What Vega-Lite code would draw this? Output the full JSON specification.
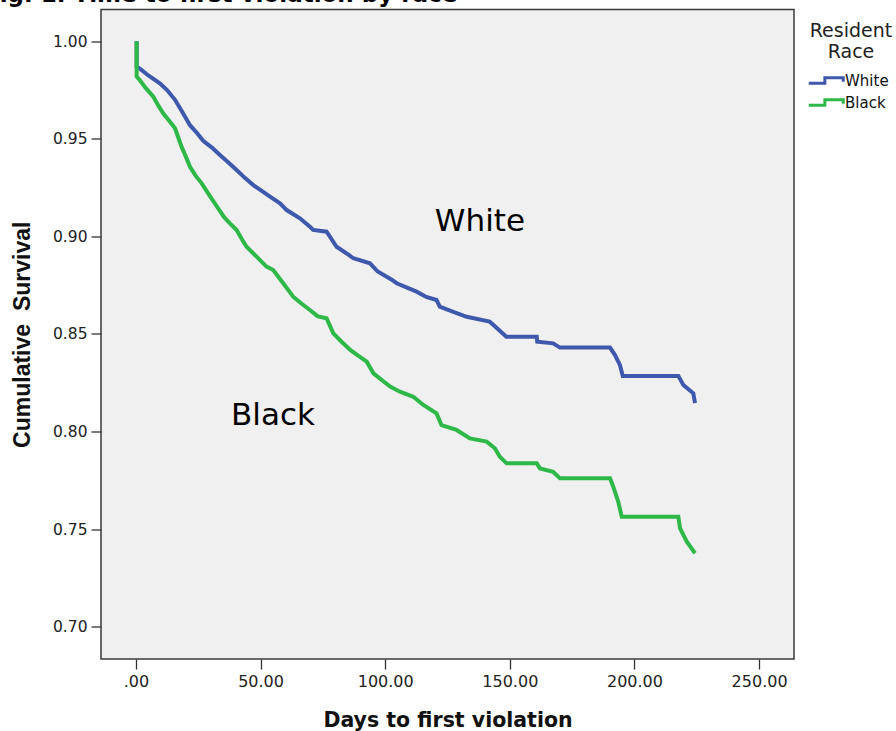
{
  "$schema": "https://vega.github.io/schema/vega-lite/v6.json",
  "width": 693,
  "height": 649.5,
  "autosize": {"type": "none"},
  "padding": {"left": 101, "top": 9.5, "right": 102, "bottom": 72},
  "background": "white",
  "title": {
    "text": "Fig. 1. Time to first violation by race",
    "anchor": "start",
    "frame": "group",
    "dx": -117,
    "dy": -2,
    "offset": 1,
    "font": "DejaVu Sans",
    "fontSize": 23,
    "fontWeight": "bold",
    "color": "#000000"
  },
  "config": {
    "view": {"fill": "#f0f0f0", "stroke": "#3a3a3a", "strokeWidth": 1.5},
    "axis": {
      "domain": false,
      "grid": false,
      "tickColor": "#333333",
      "tickWidth": 1.3,
      "tickSize": 10,
      "labelFont": "DejaVu Sans",
      "labelFontSize": 16,
      "labelColor": "#222222",
      "labelPadding": 4
    }
  },
  "layer": [
    {
      "data": {
        "values": [
          {"race": "White", "n": 1, "days": 0.3, "surv": 1.0},
          {"race": "White", "n": 2, "days": 0.3, "surv": 0.987},
          {"race": "White", "n": 3, "days": 1.6, "surv": 0.986},
          {"race": "White", "n": 4, "days": 5, "surv": 0.9825},
          {"race": "White", "n": 5, "days": 9.6, "surv": 0.9785},
          {"race": "White", "n": 6, "days": 12.5, "surv": 0.975},
          {"race": "White", "n": 7, "days": 15.7, "surv": 0.97},
          {"race": "White", "n": 8, "days": 18.5, "surv": 0.964},
          {"race": "White", "n": 9, "days": 21.7, "surv": 0.957},
          {"race": "White", "n": 10, "days": 24.5, "surv": 0.953},
          {"race": "White", "n": 11, "days": 27, "surv": 0.949},
          {"race": "White", "n": 12, "days": 30.5, "surv": 0.9455},
          {"race": "White", "n": 13, "days": 33.7, "surv": 0.9417},
          {"race": "White", "n": 14, "days": 37, "surv": 0.938},
          {"race": "White", "n": 15, "days": 40.4, "surv": 0.934},
          {"race": "White", "n": 16, "days": 43.7, "surv": 0.93},
          {"race": "White", "n": 17, "days": 47.1, "surv": 0.9263},
          {"race": "White", "n": 18, "days": 50.5, "surv": 0.9233},
          {"race": "White", "n": 19, "days": 53.8, "surv": 0.9204},
          {"race": "White", "n": 20, "days": 57.8, "surv": 0.917},
          {"race": "White", "n": 21, "days": 60.5, "surv": 0.9135},
          {"race": "White", "n": 22, "days": 65.8, "surv": 0.9093},
          {"race": "White", "n": 23, "days": 69.8, "surv": 0.905},
          {"race": "White", "n": 24, "days": 71.1, "surv": 0.9033},
          {"race": "White", "n": 25, "days": 76.5, "surv": 0.9024},
          {"race": "White", "n": 26, "days": 80.5, "surv": 0.8947},
          {"race": "White", "n": 27, "days": 85.4, "surv": 0.8905},
          {"race": "White", "n": 28, "days": 87.2, "surv": 0.8888},
          {"race": "White", "n": 29, "days": 93.9, "surv": 0.8862},
          {"race": "White", "n": 30, "days": 97, "surv": 0.882},
          {"race": "White", "n": 31, "days": 102.8, "surv": 0.8777},
          {"race": "White", "n": 32, "days": 104.6, "surv": 0.876},
          {"race": "White", "n": 33, "days": 112.6, "surv": 0.8717},
          {"race": "White", "n": 34, "days": 116.5, "surv": 0.869},
          {"race": "White", "n": 35, "days": 120.6, "surv": 0.8674},
          {"race": "White", "n": 36, "days": 121.9, "surv": 0.864},
          {"race": "White", "n": 37, "days": 126, "surv": 0.862},
          {"race": "White", "n": 38, "days": 132.7, "surv": 0.8588},
          {"race": "White", "n": 39, "days": 141.9, "surv": 0.8563},
          {"race": "White", "n": 40, "days": 144, "surv": 0.854},
          {"race": "White", "n": 41, "days": 148.6, "surv": 0.8486},
          {"race": "White", "n": 42, "days": 160.8, "surv": 0.8486},
          {"race": "White", "n": 43, "days": 161, "surv": 0.846},
          {"race": "White", "n": 44, "days": 167.4, "surv": 0.8452},
          {"race": "White", "n": 45, "days": 170.1, "surv": 0.843},
          {"race": "White", "n": 46, "days": 190.2, "surv": 0.843},
          {"race": "White", "n": 47, "days": 192.2, "surv": 0.8392},
          {"race": "White", "n": 48, "days": 194.2, "surv": 0.834},
          {"race": "White", "n": 49, "days": 195.3, "surv": 0.8285},
          {"race": "White", "n": 50, "days": 217.6, "surv": 0.8285},
          {"race": "White", "n": 51, "days": 219.6, "surv": 0.8238},
          {"race": "White", "n": 52, "days": 223.6, "surv": 0.8196},
          {"race": "White", "n": 53, "days": 224.3, "surv": 0.8145},
          {"race": "Black", "n": 1, "days": 0.3, "surv": 1.0},
          {"race": "Black", "n": 2, "days": 0.3, "surv": 0.982},
          {"race": "Black", "n": 3, "days": 1.6, "surv": 0.98},
          {"race": "Black", "n": 4, "days": 4, "surv": 0.976},
          {"race": "Black", "n": 5, "days": 7, "surv": 0.9716},
          {"race": "Black", "n": 6, "days": 9, "surv": 0.967},
          {"race": "Black", "n": 7, "days": 11, "surv": 0.963},
          {"race": "Black", "n": 8, "days": 13.5, "surv": 0.959},
          {"race": "Black", "n": 9, "days": 15.7, "surv": 0.9554},
          {"race": "Black", "n": 10, "days": 18.3, "surv": 0.946},
          {"race": "Black", "n": 11, "days": 20, "surv": 0.941},
          {"race": "Black", "n": 12, "days": 21.7, "surv": 0.9357},
          {"race": "Black", "n": 13, "days": 24, "surv": 0.931},
          {"race": "Black", "n": 14, "days": 26.4, "surv": 0.9272},
          {"race": "Black", "n": 15, "days": 29.5, "surv": 0.921},
          {"race": "Black", "n": 16, "days": 33, "surv": 0.9144},
          {"race": "Black", "n": 17, "days": 35.3, "surv": 0.91},
          {"race": "Black", "n": 18, "days": 37.7, "surv": 0.9067},
          {"race": "Black", "n": 19, "days": 40.4, "surv": 0.9033},
          {"race": "Black", "n": 20, "days": 43.1, "surv": 0.8973},
          {"race": "Black", "n": 21, "days": 44.4, "surv": 0.8947},
          {"race": "Black", "n": 22, "days": 48.4, "surv": 0.8896},
          {"race": "Black", "n": 23, "days": 52.4, "surv": 0.8845},
          {"race": "Black", "n": 24, "days": 55.1, "surv": 0.8828},
          {"race": "Black", "n": 25, "days": 59.1, "surv": 0.876},
          {"race": "Black", "n": 26, "days": 63.1, "surv": 0.8691},
          {"race": "Black", "n": 27, "days": 66, "surv": 0.866},
          {"race": "Black", "n": 28, "days": 69.8, "surv": 0.8623},
          {"race": "Black", "n": 29, "days": 73, "surv": 0.859},
          {"race": "Black", "n": 30, "days": 76.5, "surv": 0.858},
          {"race": "Black", "n": 31, "days": 79.2, "surv": 0.8503},
          {"race": "Black", "n": 32, "days": 82.5, "surv": 0.846},
          {"race": "Black", "n": 33, "days": 86, "surv": 0.8418},
          {"race": "Black", "n": 34, "days": 89, "surv": 0.839},
          {"race": "Black", "n": 35, "days": 92.6, "surv": 0.8358},
          {"race": "Black", "n": 36, "days": 95.3, "surv": 0.8298},
          {"race": "Black", "n": 37, "days": 99, "surv": 0.826},
          {"race": "Black", "n": 38, "days": 102, "surv": 0.823},
          {"race": "Black", "n": 39, "days": 105.9, "surv": 0.8204},
          {"race": "Black", "n": 40, "days": 111.3, "surv": 0.8178},
          {"race": "Black", "n": 41, "days": 115.3, "surv": 0.8136},
          {"race": "Black", "n": 42, "days": 120.6, "surv": 0.8093},
          {"race": "Black", "n": 43, "days": 122.6, "surv": 0.8033},
          {"race": "Black", "n": 44, "days": 128.6, "surv": 0.8008},
          {"race": "Black", "n": 45, "days": 134, "surv": 0.7965},
          {"race": "Black", "n": 46, "days": 140.7, "surv": 0.7948},
          {"race": "Black", "n": 47, "days": 144, "surv": 0.7914},
          {"race": "Black", "n": 48, "days": 146, "surv": 0.7871},
          {"race": "Black", "n": 49, "days": 148.7, "surv": 0.7837},
          {"race": "Black", "n": 50, "days": 160.8, "surv": 0.7837},
          {"race": "Black", "n": 51, "days": 162.1, "surv": 0.7811},
          {"race": "Black", "n": 52, "days": 167.4, "surv": 0.7794},
          {"race": "Black", "n": 53, "days": 170.1, "surv": 0.776},
          {"race": "Black", "n": 54, "days": 190.2, "surv": 0.776},
          {"race": "Black", "n": 55, "days": 191.5, "surv": 0.7717},
          {"race": "Black", "n": 56, "days": 193.5, "surv": 0.764},
          {"race": "Black", "n": 57, "days": 194.9, "surv": 0.7563},
          {"race": "Black", "n": 58, "days": 217.6, "surv": 0.7563},
          {"race": "Black", "n": 59, "days": 218.3, "surv": 0.7504},
          {"race": "Black", "n": 60, "days": 221, "surv": 0.7435},
          {"race": "Black", "n": 61, "days": 224.3, "surv": 0.7376}
        ]
      },
      "mark": {"type": "line", "strokeWidth": 4, "strokeJoin": "miter", "clip": true},
      "encoding": {
        "x": {
          "field": "days",
          "type": "quantitative",
          "scale": {"domain": [-14, 264], "nice": false, "zero": false},
          "axis": {
            "values": [0, 50, 100, 150, 200, 250],
            "labelExpr": "datum.value == 0 ? '.00' : format(datum.value, '.2f')",
            "title": "Days to first violation",
            "titleFont": "DejaVu Sans",
            "titleFontSize": 20.5,
            "titleFontWeight": "bold",
            "titleColor": "#111111",
            "titleBaseline": "alphabetic",
            "titleY": 67
          }
        },
        "y": {
          "field": "surv",
          "type": "quantitative",
          "scale": {"domain": [0.6834, 1.0163], "nice": false, "zero": false},
          "axis": {
            "values": [0.7, 0.75, 0.8, 0.85, 0.9, 0.95, 1.0],
            "format": ".2f",
            "labelFontSize": 15.5,
            "title": "Cumulative\u00a0 Survival",
            "titleFont": "Liberation Sans",
            "titleFontSize": 23,
            "titleFontWeight": "bold",
            "titleColor": "#111111",
            "titleAngle": 270,
            "titleAlign": "center",
            "titleBaseline": "middle",
            "titleX": -79,
            "titleY": 324.75
          }
        },
        "color": {
          "field": "race",
          "type": "nominal",
          "scale": {"domain": ["White", "Black"], "range": ["#3e58ac", "#2eb848"]},
          "legend": {
            "title": ["Resident", "Race"],
            "orient": "none",
            "legendX": 709,
            "legendY": 12,
            "padding": 0,
            "titleFont": "DejaVu Sans",
            "titleFontSize": 19,
            "titleFontWeight": "normal",
            "titleColor": "#222222",
            "titleAnchor": "middle",
            "titleAlign": "center",
            "titleLineHeight": 21,
            "titlePadding": 6,
            "labelFont": "DejaVu Sans",
            "labelFontSize": 15,
            "labelColor": "#111111",
            "labelOffset": 6,
            "symbolType": "M-1.5,0.24L-0.1,0.24L-0.1,-0.24L1.5,-0.24L1.5,0.1",
            "symbolSize": 529,
            "symbolStrokeWidth": 3,
            "symbolFillColor": "transparent",
            "rowPadding": 0
          }
        },
        "order": {"field": "n", "type": "quantitative"}
      }
    },
    {
      "data": {
        "values": [
          {"label": "White", "days": 138, "surv": 0.9074},
          {"label": "Black", "days": 55, "surv": 0.8079}
        ]
      },
      "mark": {
        "type": "text",
        "font": "DejaVu Sans",
        "fontSize": 31,
        "color": "#000000",
        "align": "center",
        "baseline": "middle"
      },
      "encoding": {
        "x": {"field": "days", "type": "quantitative"},
        "y": {"field": "surv", "type": "quantitative"},
        "text": {"field": "label", "type": "nominal"}
      }
    }
  ]
}
